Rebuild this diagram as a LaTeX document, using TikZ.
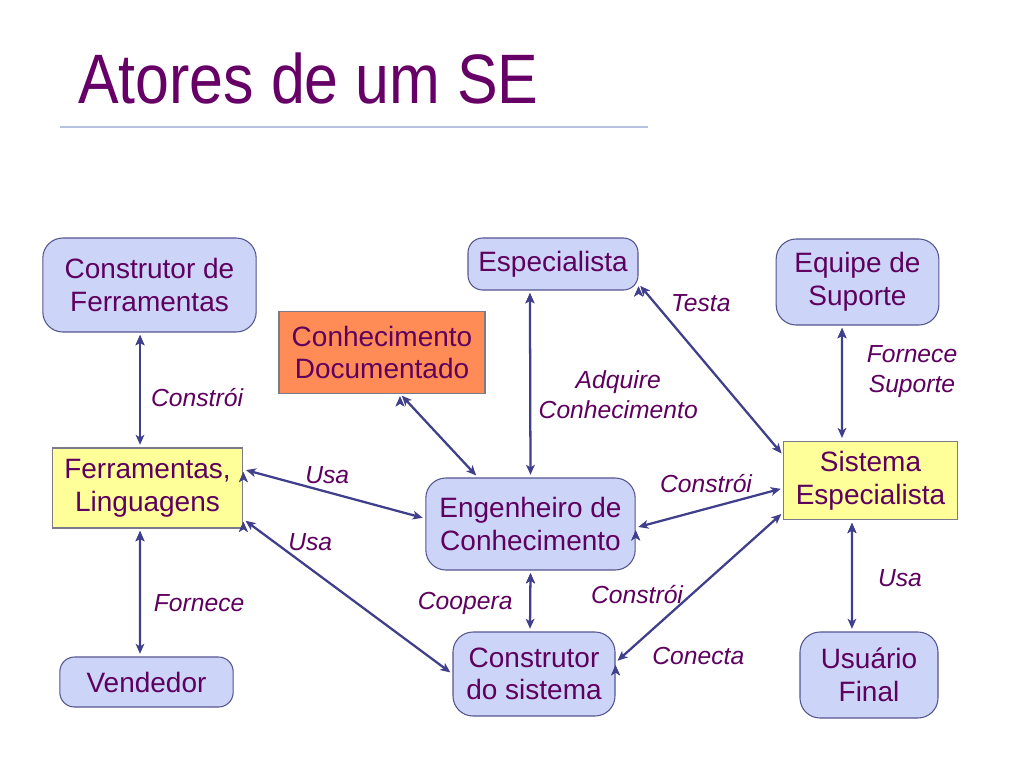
\documentclass[tikz,border=0pt]{standalone}
\usepackage{fontspec}
\setmainfont{Liberation Sans}
\newfontfamily\titlefont[FakeStretch=0.87]{Liberation Sans}
\usetikzlibrary{arrows.meta}
\definecolor{textc}{HTML}{5E005E}
\definecolor{titlec}{HTML}{660066}
\definecolor{actorfill}{HTML}{CCD5F7}
\definecolor{actorline}{HTML}{55558F}
\definecolor{toolfill}{HTML}{FFFF99}
\definecolor{docfill}{HTML}{FF8C57}
\definecolor{boxline}{HTML}{7A7A8A}
\definecolor{arrowc}{HTML}{3F3F8C}
\definecolor{rulec}{HTML}{B7C2E3}

\begin{document}
\begin{tikzpicture}[x=0.75pt, y=-0.75pt]

      \tikzset{actor/.style={draw=actorline, fill=actorfill, rounded corners=15pt, line width=0.8pt, align=center, inner sep=0pt, text=textc, font=\fontsize{21}{24.5}\selectfont},
               tool/.style={actor, rounded corners=0pt, draw=boxline, fill=toolfill},
               docbox/.style={tool, fill=docfill},
               rel/.style={text=textc, align=center, font=\itshape\fontsize{18.5}{22.5}\selectfont},
               link/.style={{Stealth[length=7.5pt,width=6.5pt,inset=2pt]}-{Stealth[length=7.5pt,width=6.5pt,inset=2pt]}, draw=arrowc, line width=1.7pt, shorten <=2pt, shorten >=2pt}}
      \useasboundingbox (0,0) rectangle (1024,768);
%% Title
      	\node[anchor=base west, inner sep=0pt, text=titlec, font=\titlefont\fontsize{52.5}{60}\selectfont] (title) at (78,103) {Atores de um SE};
      	\draw[rulec, line width=1pt] (60,127) -- (648,127);
%% Actors
      	\node[actor, minimum width=160pt, minimum height=70.5pt] (cf) at (149.5,285) {Construtor de\\Ferramentas};
      	\node[actor, rounded corners=11pt, minimum width=127.5pt, minimum height=39pt] (esp) at (553,264) {Especialista};
      	\node[actor, minimum width=122pt, minimum height=64.5pt] (eqp) at (857.5,282) {Equipe de\\Suporte};
      	\node[docbox, minimum width=154.5pt, minimum height=61pt] (cdoc) at (382,352.5) {Conhecimento\\Documentado};
      	\node[tool, minimum width=143pt, minimum height=60pt] (ferr) at (147.5,488) {Ferramentas,\\Linguagens};
      	\node[actor, minimum width=157pt, minimum height=69pt] (eng) at (530.5,524) {Engenheiro de\\Conhecimento};
      	\node[tool, minimum width=130pt, minimum height=59pt] (sis) at (870.5,480.5) {Sistema\\Especialista};
      	\node[actor, minimum width=121.5pt, minimum height=63pt] (csis) at (534,674) {Construtor\\do sistema};
      	\node[actor, minimum width=103.5pt, minimum height=64.5pt] (usu) at (869,675) {Usu\'ario\\Final};
      	\node[actor, rounded corners=11pt, minimum width=130pt, minimum height=37.5pt] (vend) at (146.5,682) {Vendedor};
%Edges
		\path [link] ([xshift=-7.1pt]cf.south) edge node[rel, pos=.5, xshift=42.8pt, yshift=-5.3pt] {Constr\'oi} ([xshift=-5.6pt]ferr.north);
		\path [link] ([xshift=-5.6pt]ferr.south) edge node[rel, pos=.5, xshift=44.3pt, yshift=-7.9pt] {Fornece} ([xshift=-4.9pt]vend.north);
		\path [link] ([xshift=13.5pt]cdoc.south) edge ([xshift=-39.4pt]eng.north);
		\path [link] ([xshift=-17.3pt]esp.south) edge node[rel, pos=.5, xshift=66pt, yshift=-8.3pt] {Adquire\\Conhecimento} (eng.north);
		\path [link] (esp.-13) edge node[rel, pos=.25, xshift=19.5pt, yshift=17.3pt] {Testa} (sis.164);
		\path [link] ([xshift=-11.6pt]eqp.south) edge node[rel, pos=.5, xshift=52.5pt, yshift=9pt] {Fornece\\Suporte} ([xshift=-21.4pt]sis.north);
		\path [link] (ferr.11) edge node[rel, pos=.5, xshift=-5.3pt, yshift=14.3pt] {Usa} (eng.177);
		\path [link] (ferr.-18) edge node[rel, pos=.32, yshift=20pt] {Usa} (csis.west);
		\path [link] (eng.-2) edge node[rel, pos=.5, xshift=-2.6pt, yshift=18pt] {Constr\'oi} (sis.185);
		\path [link] (eng.south) edge node[rel, pos=.5, xshift=-48.8pt, yshift=-1.5pt] {Coopera} ([xshift=-3pt]csis.north);
		\path [link] (csis.8) edge node[rel, pos=.45, xshift=-40.5pt] {Constr\'oi} node[rel, pos=.1, xshift=49.5pt, yshift=-6pt] {Conecta} (sis.200);
		\path [link] ([xshift=-13.9pt]sis.south) edge node[rel, pos=.5, xshift=36pt, yshift=-1.5pt] {Usa} ([xshift=-12.8pt]usu.north);

	\end{tikzpicture}
\end{document}
